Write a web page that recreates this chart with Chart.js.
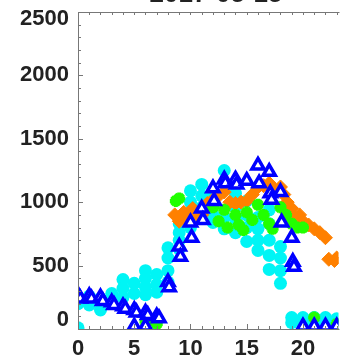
<!DOCTYPE html>
<html>
<head>
<meta charset="utf-8">
<script src="https://cdn.jsdelivr.net/npm/chart.js@4.4.1/dist/chart.umd.min.js"></script>
<style>
html,body{margin:0;padding:0;background:#fff;}
#wrap{width:349px;height:360px;}
</style>
</head>
<body>
<div id="wrap"><canvas id="c" width="349" height="360"></canvas></div>
<script>
// ---- data (hour of day, value) ----
const titleText = "2017-05-15";
const xTickLabels = ["0", "5", "10", "15", "20"];
const xTickValues = [0, 5, 10, 15, 20];
const yTickLabels = ["0", "500", "1000", "1500", "2000", "2500"];
const yTickValues = [0, 500, 1000, 1500, 2000, 2500];

const cyanHours = [0,0,0, 1,1,1, 2,2, 3,3, 4,4,4, 5,5, 6,6,6,6, 7,7,7, 8,8,8,8, 9,9,9,9, 10,10,10,10, 11,11,11, 12,12,12,12, 13,13,13, 14,14,14,14, 15,15,15,15, 16,16,16,16, 17,17,17,17,17, 18,18,18,18, 19,19, 20,20, 21,21, 22,22, 23];
const cyanValues = [230,200,10, 260,210,190, 240,150, 280,240, 390,320,250, 360,280, 460,400,330,270, 430,350,290, 640,560,460,370, 830,760,700,630, 1090,1000,900,800, 1140,1050,960, 1070,980,900,840, 1250,880,790, 1070,960,870,760, 1010,900,800,690, 880,790,700,620, 940,830,700,580,470, 650,560,460,360, 90,50, 90,50, 90,40, 90,50, 80];

const orangeHours = [8.6,9.0,9.4,9.8,10.2,10.6,11.0,11.5,12.0,12.5,13.0,13.5,14.0,14.5,15.0,15.5,16.0,16.5,17.0,17.5,18.0,18.3,18.6,19.0,19.3,19.7,20.0,20.5,21.0,21.5,22.0,22.3,22.8,23.0];
const orangeValues = [900,850,920,880,950,900,900,990,1020,1050,1080,1000,990,1000,1010,1060,1120,1130,1150,1100,1120,1060,1000,950,880,900,850,820,790,760,720,550,540,560];

const greenHours = [6,6.5,7, 8.7,9.0, 12,12.5,13,13.3,14,14.3,14.7,15,15.5,16,16.5,17,17.3,18,18.5,19,19.5,20,21,23];
const greenValues = [60,70,40, 1010,1030, 960,850,940,800,900,820,780,920,860,980,900,830,790,960,900,830,800,800,90,40];

const blueHours = [0,0.2,1,1.2,2,2.2,3,3.2,4,4.2,5,5.2,6,6.2,7,7.2, 5,6, 8,8.1,9,9.1,10,10.1,11,11.1,12,12.1,13,13.1,14,14.1,15,16,16.1,17,17.1,17.2,18,18.1,19,19.1,19.2, 20,21,22,23];
const blueValues = [270,240,260,240,250,220,210,190,180,160,150,130,130,110,100,85, 20,20, 370,330,650,570,840,720,950,860,1110,1010,1180,1150,1180,1140,1170,1290,1150,1240,1070,1020,1080,840,720,530,490, 20,20,20,20];

function pts(h, v){ return h.map((x,i)=>({x:x, y:v[i]})); }

const frameColor = "#777";
const textColor = "#222";
const fontSpec = "bold 22px 'Liberation Sans', Arial, sans-serif";

const framePlugin = {
  id: 'frame',
  afterDatasetsDraw(chart){
    const {ctx, chartArea:a, scales:{x, y}} = chart;
    ctx.save();
    ctx.strokeStyle = frameColor;
    ctx.lineWidth = 1;
    ctx.beginPath();
    ctx.moveTo(a.right+1, a.top+0.5); ctx.lineTo(a.left+0.5, a.top+0.5);
    ctx.lineTo(a.left+0.5, a.bottom+0.5); ctx.lineTo(a.right+1, a.bottom+0.5);
    ctx.stroke();
    ctx.beginPath();
    for(let v=0; v<=2500; v+=100){
      const py = Math.round(y.getPixelForValue(v))+0.5;
      const len = (v%500===0)?5:3;
      ctx.moveTo(a.left, py); ctx.lineTo(a.left+len, py);
    }
    for(let h=0; h<=24; h+=1){
      const px = Math.round(x.getPixelForValue(h))+0.5;
      if(px > a.right) continue;
      const len = (h%5===0)?5:3;
      ctx.moveTo(px, a.bottom); ctx.lineTo(px, a.bottom-len);
      ctx.moveTo(px, a.top); ctx.lineTo(px, a.top+3);
    }
    ctx.stroke();
    ctx.restore();
  },
  afterDraw(chart){
    const {ctx, chartArea:a, scales:{x, y}} = chart;
    ctx.save();
    ctx.fillStyle = textColor;
    ctx.font = fontSpec;
    ctx.textAlign = 'right';
    ctx.textBaseline = 'middle';
    yTickValues.forEach((v,i)=>{
      let py = y.getPixelForValue(v);
      py = Math.min(Math.max(py, a.top+7), a.bottom-9);
      ctx.fillText(yTickLabels[i], a.left-9, py);
    });
    ctx.textAlign = 'center';
    xTickValues.forEach((v,i)=>{
      ctx.fillText(xTickLabels[i], x.getPixelForValue(v), a.bottom+20);
    });
    ctx.textBaseline = 'alphabetic';
    ctx.font = "bold 26px 'Liberation Sans', Arial, sans-serif";
    ctx.fillText(titleText, 216, 1.5);
    ctx.restore();
  }
};

new Chart(document.getElementById('c'), {
  type: 'scatter',
  data: {
    datasets: [
      {label:'cyan', order:3, data: pts(cyanHours, cyanValues), pointStyle:'circle', pointRadius:6.5, backgroundColor:'#00F5F5', borderColor:'#00F5F5', borderWidth:0, clip:0},
      {label:'orange', order:2, data: pts(orangeHours, orangeValues), pointStyle:'rectRot', pointRadius:7, backgroundColor:'#FF8000', borderColor:'#FF8000', borderWidth:1, clip:0},
      {label:'green', order:1, data: pts(greenHours, greenValues), pointStyle:'star', pointRadius:6, backgroundColor:'#22FF00', borderColor:'#22FF00', borderWidth:4, clip:0},
      {label:'blue', order:0, data: pts(blueHours, blueValues), pointStyle:'triangle', pointRadius:7, backgroundColor:'#FFFFFF', borderColor:'#0000FF', borderWidth:3.5, clip:0}
    ]
  },
  options: {
    responsive: false,
    animation: false,
    devicePixelRatio: 1,
    layout: {padding: {left: 78, top: 12, right: 0, bottom: 31}},
    plugins: {legend:{display:false}, tooltip:{enabled:false}, title:{display:false}},
    scales: {
      x: {type:'linear', min:0, max:23.16, display:false},
      y: {type:'linear', min:0, max:2500, display:false}
    }
  },
  plugins: [framePlugin]
});
</script>
</body>
</html>
